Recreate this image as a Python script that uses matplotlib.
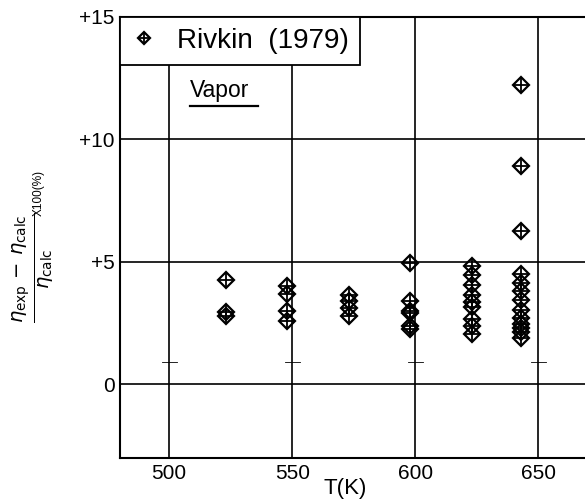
import matplotlib
matplotlib.use("Agg")
import matplotlib.pyplot as plt
from matplotlib.lines import Line2D

plt.rcParams['font.family'] = ['Liberation Sans', 'DejaVu Sans']
plt.rcParams['mathtext.fontset'] = 'dejavusans'

# Data (temperature K, deviation %)
t_523 = [523, 523, 523]
d_523 = [4.25, 2.95, 2.8]
t_548 = [548, 548, 548, 548]
d_548 = [4.0, 3.7, 3.0, 2.6]
t_573 = [573, 573, 573, 573]
d_573 = [3.65, 3.4, 3.1, 2.8]
t_598 = [598, 598, 598, 598, 598, 598]
d_598 = [4.95, 3.4, 3.0, 2.9, 2.4, 2.25]
t_623 = [623] * 9
d_623 = [4.85, 4.45, 4.05, 3.65, 3.35, 3.15, 2.65, 2.4, 2.05]
t_643 = [643] * 13
d_643 = [12.2, 8.9, 6.25, 4.5, 4.15, 3.8, 3.45, 3.05, 2.7, 2.45, 2.3, 2.15, 1.9]

temps = t_523 + t_548 + t_573 + t_598 + t_623 + t_643
devs = d_523 + d_548 + d_573 + d_598 + d_623 + d_643

x_grid = [500, 550, 600, 650]
y_grid = [0, 5, 10]
y_ticks = [0, 5, 10, 15]
y_ticklabels = ['0', '+5', '+10', '+15']
x_ticks = [500, 550, 600, 650]
x_ticklabels = ['500', '550', '600', '650']
guide_y = 0.9

fig = plt.figure(figsize=(5.85, 4.99), dpi=100)
ax = fig.add_axes([120/585, 1-458/499, 1-120/585, (458-16.7)/499])
ax.set_xlim(480, 669)
ax.set_ylim(-3, 15)

for xg in x_grid:
    ax.axvline(xg, color='black', lw=1.2, zorder=1)
for yg in y_grid:
    ax.axhline(yg, color='black', lw=1.2, zorder=1)
for xg in x_grid:
    ax.plot([xg - 3, xg + 3], [guide_y, guide_y], color='black', lw=0.6, zorder=1)

ax.plot(temps, devs, linestyle='none', marker='D', ms=8.5, mfc='none',
        mec='black', mew=1.6, zorder=3)
ax.plot(temps, devs, linestyle='none', marker='+', ms=12, mec='black',
        mew=1.3, zorder=3)

for s in ['left', 'top', 'bottom']:
    ax.spines[s].set_linewidth(1.5)
ax.spines['right'].set_visible(False)

ax.set_xticks(x_ticks)
ax.set_xticklabels(x_ticklabels, fontsize=15)
ax.set_yticks(y_ticks)
ax.set_yticklabels(y_ticklabels, fontsize=15)
ax.tick_params(length=0, pad=4)
ax.set_xlabel('T(K)', fontsize=16)
ax.xaxis.set_label_coords(0.484, -0.045)

h1 = Line2D([], [], linestyle='none', marker='D', ms=6.5, mfc='none', mec='black', mew=1.6)
h2 = Line2D([], [], linestyle='none', marker='+', ms=9, mec='black', mew=1.3)
leg = ax.legend([(h1, h2)], ['Rivkin  (1979)'], loc='upper left', bbox_to_anchor=(0, 1),
                borderaxespad=0, fancybox=False, edgecolor='black', framealpha=1,
                prop={'size': 20}, handlelength=0.9, handletextpad=0.75,
                borderpad=0.4)
leg.get_frame().set_linewidth(1.3)
leg.set_zorder(5)

# "Vapor" underlined
ax.text(508.5, 12.0, 'Vapor', fontsize=16.5, ha='left', va='center')
ax.plot([508.5, 536], [11.35, 11.35], color='black', lw=1.6)

# y label
fig.text(33/585, 1-268/499,
         r'$\frac{\eta_{\rm exp}\,-\,\eta_{\rm calc}}{\eta_{\rm calc}}$',
         rotation=90, fontsize=20, ha='center', va='center')
fig.text(39/585, 1-193/499, 'X100(%)', rotation=90, fontsize=8.5,
         ha='center', va='center')

fig.savefig('out.png', dpi=100)
